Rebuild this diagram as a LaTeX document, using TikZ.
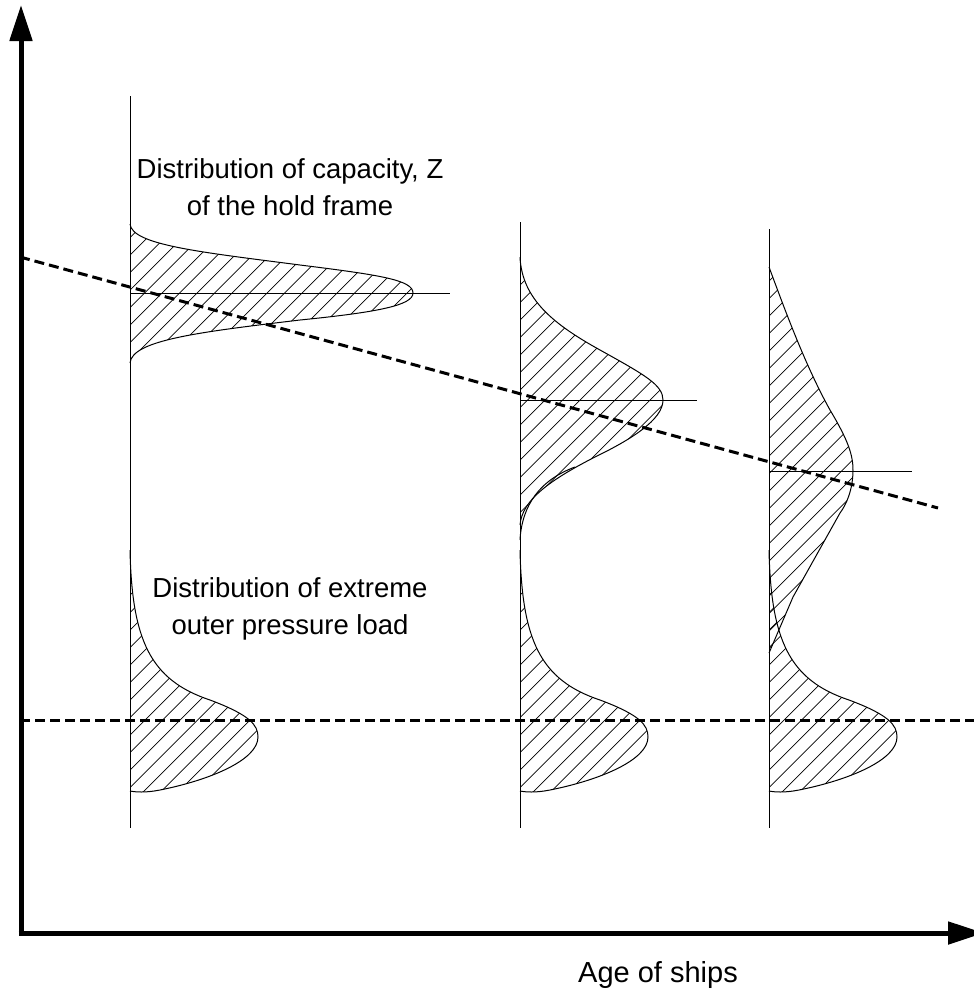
\documentclass[tikz,border=0pt]{standalone}
\usepackage{fontspec}
\setmainfont{Liberation Sans}
\usetikzlibrary{arrows.meta}
\begin{document}
\begin{tikzpicture}[x=1pt,y=-1pt,
  axisline/.style={line width=5pt,-{Triangle[length=36pt,width=22pt]}},
  thinline/.style={line width=1pt},
  hatchline/.style={line width=0.7pt},
  dashline/.style={line width=3pt,dash pattern=on 10pt off 5pt},
  lbl/.style={font=\fontsize{27.5}{37}\selectfont,align=center,inner sep=0pt}]
\useasboundingbox (0,0) rectangle (974,1002);
\def\capA{(130,224) .. controls (132,245) and (200,252) .. (300,265) .. controls (380,275) and (413,280) .. (413,293) .. controls (413,305) and (380,312) .. (300,320) .. controls (200,332) and (132,340) .. (130,363)}
\def\capB{(520,257) .. controls (522,300) and (555,325) .. (600,350) .. controls (645,375) and (663,385) .. (663,400) .. controls (663,420) and (630,440) .. (595,457) .. controls (550,480) and (522,500) .. (520,525)}
\def\capC{(769,267) .. controls (785,310) and (805,365) .. (830,410) .. controls (848,440) and (853,455) .. (853,470) .. controls (853,490) and (846,505) .. (840,513) -- (793,597) -- (769,653)}
\def\loadshape{(0,550) .. controls (2,640) and (20,680) .. (80,700) .. controls (120,715) and (128,725) .. (128,737) .. controls (128,760) and (80,780) .. (30,790) .. controls (15,793) and (5,792) .. (0,791)}
\newcommand\hatchit{\foreach \c in {0,17.5,...,2000} \draw[hatchline] (\c,0) -- (\c-1000,1000);}
% hatching of capacity distributions
\begin{scope}\clip \capA -- cycle; \hatchit\end{scope}
\begin{scope}\clip \capB -- cycle; \hatchit\end{scope}
\begin{scope}\clip \capC -- cycle; \hatchit\end{scope}
\draw[thinline] \capA;
\draw[thinline] \capB;
\draw[thinline] (575,467) .. controls (540,480) and (522,505) .. (520,540);
\draw[thinline] \capC;
% load distributions
\foreach \xx in {130,520,769}{
  \begin{scope}[xshift=\xx pt]
    \begin{scope}\clip \loadshape -- cycle; \hatchit\end{scope}
    \draw[thinline] \loadshape;
  \end{scope}}
% vertical lines
\coordinate (v1t) at (130,96);  \coordinate (v1b) at (130,828);
\coordinate (v2t) at (520,222); \coordinate (v2b) at (520,828);
\coordinate (v3t) at (769,229); \coordinate (v3b) at (769,828);
\draw[thinline] (v1t) -- (v1b);
\draw[thinline] (v2t) -- (v2b);
\draw[thinline] (v3t) -- (v3b);
% mean lines
\coordinate (m1a) at (130,293); \coordinate (m1b) at (450,293);
\coordinate (m2a) at (520,400); \coordinate (m2b) at (697,400);
\coordinate (m3a) at (769,471); \coordinate (m3b) at (912,471);
\draw[thinline] (m1a) -- (m1b);
\draw[thinline] (m2a) -- (m2b);
\draw[thinline] (m3a) -- (m3b);
% dashed lines
\coordinate (d1a) at (20,257); \coordinate (d1b) at (938,508);
\coordinate (d2a) at (20,720); \coordinate (d2b) at (974,720);
\draw[dashline] (d1a) -- (d1b);
\draw[dashline] (d2a) -- (d2b);
% axes
\coordinate (origin) at (21,933);
\coordinate (ytip) at (21,5);
\coordinate (xtip) at (984,933);
\draw[axisline] (21,935.5) -- (ytip);
\draw[axisline] (18.5,933) -- (xtip);
% labels
\node[lbl] (capacity) at (290,187) {Distribution of capacity, Z\\of the hold frame};
\node[lbl] (load) at (290,609) {Distribution of extreme\\outer pressure load};
\node[lbl,font=\fontsize{29}{36}\selectfont] (age) at (658,975) {Age of ships};
\end{tikzpicture}
\end{document}
